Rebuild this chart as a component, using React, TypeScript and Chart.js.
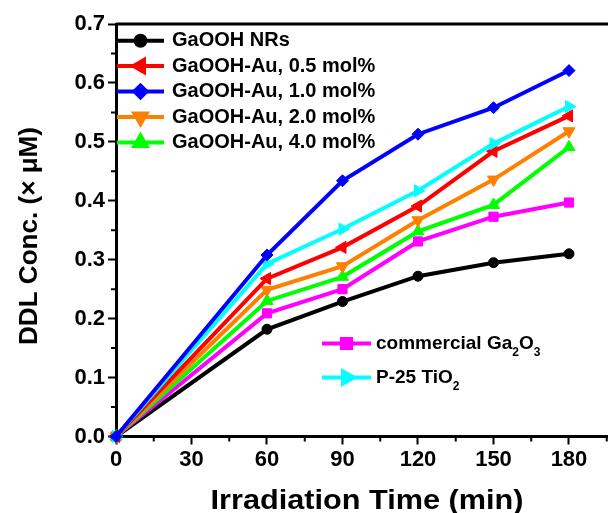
import React, { useEffect, useRef } from "react";
import { Chart, registerables } from "chart.js";
import { drawPoint } from "chart.js/helpers";

Chart.register(...registerables);

const times = [0, 60, 90, 120, 150, 180];
const gaoohNRs = [0, 0.182, 0.229, 0.272, 0.295, 0.31];
const au05 = [0, 0.268, 0.321, 0.391, 0.484, 0.544];
const au10 = [0, 0.308, 0.434, 0.513, 0.558, 0.621];
const au20 = [0, 0.249, 0.289, 0.367, 0.436, 0.518];
const au40 = [0, 0.23, 0.271, 0.348, 0.393, 0.491];
const commercialGa2O3 = [0, 0.209, 0.25, 0.331, 0.373, 0.397];
const p25TiO2 = [0, 0.293, 0.352, 0.417, 0.497, 0.56];

const xTicks = [0, 30, 60, 90, 120, 150, 180];
const xMinorTicks = [15, 45, 75, 105, 135, 165, 195];
const yTicks = [0, 0.1, 0.2, 0.3, 0.4, 0.5, 0.6, 0.7];
const yMinorTicks = [0.05, 0.15, 0.25, 0.35, 0.45, 0.55, 0.65];

const xTitle = "Irradiation Time (min)";
const yTitle = "DDL Conc. (\u00d7 \u03bcM)";

const FONT = "'Liberation Sans', Arial, sans-serif";

type Seg = { t: string; sub?: boolean };

const seriesDefs = [
  { key: "nr", data: gaoohNRs, color: "#000000", style: "circle", rot: 0, r: 5, label: [{ t: "GaOOH NRs" }] as Seg[] },
  { key: "a05", data: au05, color: "#ff0000", style: "triangle", rot: -90, r: 7, label: [{ t: "GaOOH-Au, 0.5 mol%" }] as Seg[] },
  { key: "a10", data: au10, color: "#0000ff", style: "rectRot", rot: 0, r: 6, label: [{ t: "GaOOH-Au, 1.0 mol%" }] as Seg[] },
  { key: "a20", data: au20, color: "#ff8000", style: "triangle", rot: 180, r: 7, label: [{ t: "GaOOH-Au, 2.0 mol%" }] as Seg[] },
  { key: "a40", data: au40, color: "#00ff00", style: "triangle", rot: 0, r: 7, label: [{ t: "GaOOH-Au, 4.0 mol%" }] as Seg[] },
  { key: "ga", data: commercialGa2O3, color: "#ff00ff", style: "rect", rot: 0, r: 6.5, label: [{ t: "commercial Ga" }, { t: "2", sub: true }, { t: "O" }, { t: "3", sub: true }] as Seg[] },
  { key: "ti", data: p25TiO2, color: "#00ffff", style: "triangle", rot: 90, r: 7, label: [{ t: "P-25 TiO" }, { t: "2", sub: true }] as Seg[] },
];

const drawOrder = ["nr", "ga", "a40", "a20", "a05", "ti", "a10"];

function fitText(ctx: CanvasRenderingContext2D, text: string, targetW: number) {
  const w = ctx.measureText(text).width;
  const sx = targetW / w;
  ctx.save();
  ctx.scale(sx, 1);
  ctx.fillText(text, 0, 0);
  ctx.restore();
}

const decorPlugin = {
  id: "decor",
  afterDraw(chart: any) {
    const ctx = chart.ctx as CanvasRenderingContext2D;
    const { chartArea } = chart;
    const xs = chart.scales.x;
    const ys = chart.scales.y;
    ctx.save();
    // top frame line
    ctx.strokeStyle = "#000";
    ctx.lineWidth = 3;
    ctx.beginPath();
    ctx.moveTo(chartArea.left, chartArea.top);
    ctx.lineTo(chart.width, chartArea.top);
    ctx.stroke();
    // minor ticks
    ctx.lineWidth = 2;
    ctx.beginPath();
    for (const v of xMinorTicks) {
      const px = xs.getPixelForValue(v);
      ctx.moveTo(px, chartArea.bottom);
      ctx.lineTo(px, chartArea.bottom + 5);
    }
    for (const v of yMinorTicks) {
      const py = ys.getPixelForValue(v);
      ctx.moveTo(chartArea.left, py);
      ctx.lineTo(chartArea.left - 5, py);
    }
    ctx.stroke();

    // axis titles
    ctx.fillStyle = "#000";
    ctx.textAlign = "center";
    ctx.textBaseline = "middle";
    ctx.font = `bold 27px ${FONT}`;
    ctx.save();
    ctx.translate(367, 502);
    fitText(ctx, xTitle, 313);
    ctx.restore();
    ctx.font = `bold 26px ${FONT}`;
    ctx.save();
    ctx.translate(30, 236);
    ctx.rotate(-Math.PI / 2);
    fitText(ctx, yTitle, 218);
    ctx.restore();

    // legends
    const drawEntry = (def: any, x1: number, x2: number, y: number, tx: number, size: number) => {
      ctx.strokeStyle = def.color;
      ctx.lineWidth = 4;
      ctx.beginPath();
      ctx.moveTo(x1, y);
      ctx.lineTo(x2, y);
      ctx.stroke();
      ctx.fillStyle = def.color;
      drawPoint(ctx, { pointStyle: def.style, rotation: def.rot, radius: def.r, borderWidth: 1 } as any, (x1 + x2) / 2, y);
      ctx.fillStyle = "#000";
      ctx.textAlign = "left";
      ctx.textBaseline = "middle";
      let cx = tx;
      for (const seg of def.label as Seg[]) {
        if (seg.sub) {
          ctx.font = `bold ${Math.round(size * 0.65)}px ${FONT}`;
          ctx.fillText(seg.t, cx, y + size * 0.5);
        } else {
          ctx.font = `bold ${size}px ${FONT}`;
          ctx.fillText(seg.t, cx, y);
        }
        cx += ctx.measureText(seg.t).width;
      }
    };
    const topRows = [40.7, 66, 91.5, 117, 142.5];
    for (let i = 0; i < 5; i++) {
      drawEntry(seriesDefs[i], 117, 164, topRows[i], 172, 20);
    }
    drawEntry(seriesDefs[5], 322, 371, 343.5, 376, 19);
    drawEntry(seriesDefs[6], 322, 371, 377.5, 376, 19);
    ctx.restore();
  },
};

export default function App() {
  const ref = useRef<HTMLCanvasElement | null>(null);
  useEffect(() => {
    document.body.style.margin = "0";
    const canvas = ref.current!;
    const datasets = drawOrder.map((k, i) => {
      const d = seriesDefs.find((s) => s.key === k)!;
      return {
        label: d.key,
        data: times.map((t, j) => ({ x: t, y: d.data[j] })),
        borderColor: d.color,
        backgroundColor: d.color,
        borderWidth: 4,
        pointStyle: d.style as any,
        rotation: d.rot,
        pointRadius: d.r,
        pointBorderWidth: 1,
        pointBackgroundColor: d.color,
        pointBorderColor: d.color,
        tension: 0,
        clip: false,
        order: drawOrder.length - i,
      };
    });
    const chart = new Chart(canvas, {
      type: "line",
      data: { datasets },
      plugins: [decorPlugin],
      options: {
        animation: false,
        responsive: false,
        events: [],
        layout: { autoPadding: false, padding: { top: 24, right: 0, left: 0, bottom: 0 } },
        plugins: { legend: { display: false }, tooltip: { enabled: false } },
        scales: {
          x: {
            type: "linear",
            min: 0,
            max: 195.5,
            afterBuildTicks: (s: any) => {
              s.ticks = xTicks.map((v) => ({ value: v }));
            },
            afterFit: (s: any) => {
              s.height = 76.5;
            },
            grid: { display: true, drawOnChartArea: false, drawTicks: true, tickLength: 8, tickWidth: 2, tickColor: "#000" },
            border: { display: true, color: "#000", width: 3 },
            ticks: { color: "#000", font: { family: FONT, size: 22, weight: "bold" }, padding: 2, maxRotation: 0 },
          },
          y: {
            type: "linear",
            min: 0,
            max: 0.7,
            afterBuildTicks: (s: any) => {
              s.ticks = yTicks.map((v) => ({ value: v }));
            },
            afterFit: (s: any) => {
              s.width = 116;
            },
            grid: { display: true, drawOnChartArea: false, drawTicks: true, tickLength: 8, tickWidth: 2, tickColor: "#000" },
            border: { display: true, color: "#000", width: 3 },
            ticks: {
              color: "#000",
              font: { family: FONT, size: 22, weight: "bold" },
              padding: 3,
              callback: (v: any) => Number(v).toFixed(1),
            },
          },
        },
      } as any,
    });
    return () => chart.destroy();
  }, []);
  return (
    <div style={{ position: "fixed", left: 0, top: 0, width: 608, height: 513, background: "#fff" }}>
      <canvas ref={ref} width={608} height={513} style={{ width: 608, height: 513 }} />
    </div>
  );
}
